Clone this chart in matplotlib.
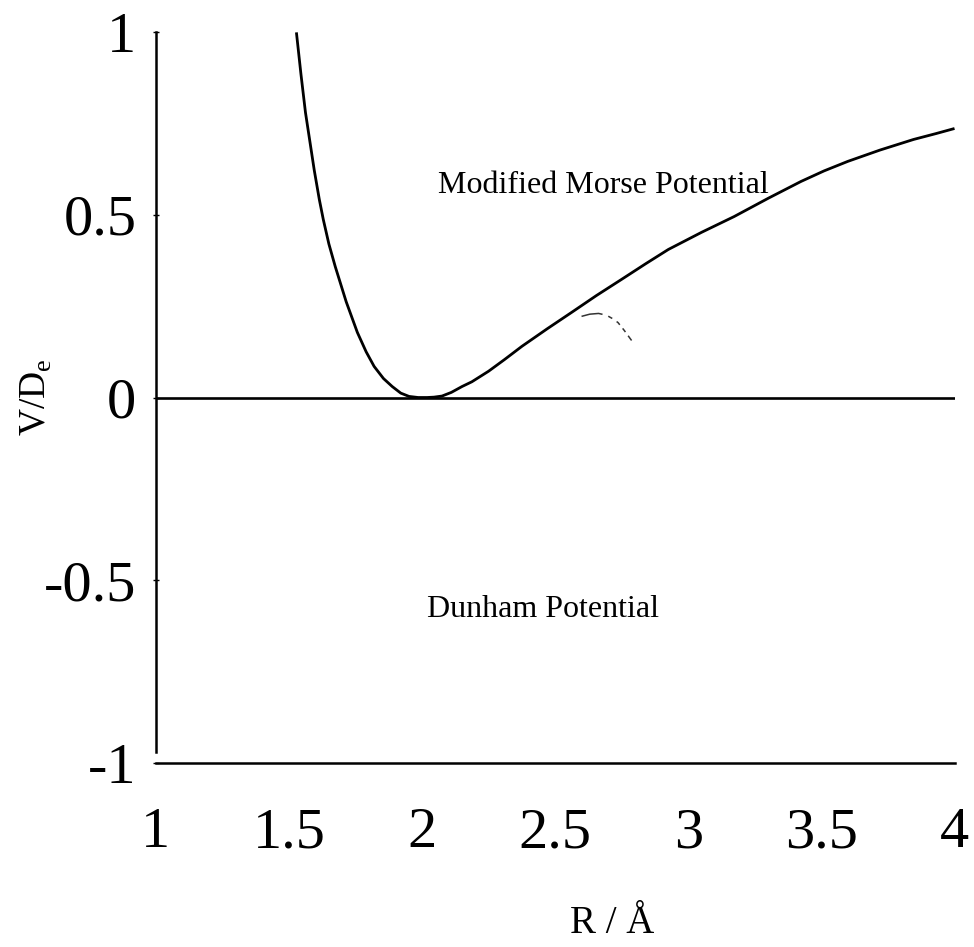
import matplotlib
matplotlib.use("Agg")
import matplotlib.pyplot as plt

plt.rcParams['font.family'] = ['Liberation Serif', 'DejaVu Serif']
plt.rcParams['mathtext.fontset'] = 'custom'
plt.rcParams['mathtext.rm'] = 'Liberation Serif'

# Modified Morse potential, V/De against R (Angstrom)
morse_r = [1.528, 1.545, 1.562, 1.595, 1.614, 1.629, 1.650, 1.674, 1.715, 1.757,
           1.790, 1.820, 1.855, 1.888, 1.920, 1.951, 1.985, 2.019, 2.045, 2.075,
           2.110, 2.150, 2.187, 2.250, 2.310, 2.375, 2.470, 2.562, 2.655, 2.749,
           2.840, 2.925, 3.050, 3.172, 3.300, 3.423, 3.510, 3.599, 3.720, 3.846,
           3.930, 4.000]
morse_v = [0.999, 0.885, 0.780, 0.622, 0.542, 0.487, 0.420, 0.358, 0.262, 0.178,
           0.125, 0.085, 0.052, 0.030, 0.012, 0.003, 0.000, 0.000, 0.001, 0.004,
           0.014, 0.030, 0.043, 0.072, 0.104, 0.140, 0.188, 0.233, 0.279, 0.323,
           0.366, 0.405, 0.452, 0.495, 0.545, 0.591, 0.620, 0.646, 0.677, 0.706,
           0.722, 0.736]

# Dunham expansion, only where it departs from the Morse curve
dunham_r = [2.599, 2.630, 2.663, 2.693, 2.715, 2.736, 2.760, 2.787]
dunham_v = [0.222, 0.228, 0.230, 0.225, 0.216, 0.205, 0.183, 0.156]

xticks = [1, 1.5, 2, 2.5, 3, 3.5, 4]
xtick_labels = ['1', '1.5', '2', '2.5', '3', '3.5', '4']
yticks = [-1, -0.5, 0, 0.5, 1]
ytick_labels = ['-1', '-0.5', '0', '0.5', '1']

fig = plt.figure(figsize=(9.74, 9.47), dpi=100)
ax = fig.add_axes([0.160, 0.1943, 0.820, 0.7719])

ax.plot(morse_r, morse_v, color='black', lw=2.0, solid_capstyle='butt')
ax.plot(dunham_r, dunham_v, color='#333333', lw=1.1,
        linestyle=(0, (14, 4, 3, 3.5, 3, 3, 3, 3)))
ax.axhline(0, color='black', lw=1.9)

ax.text(2.06, 0.58, 'Modified Morse Potential', fontsize=23, va='center')
ax.text(2.02, -0.58, 'Dunham Potential', fontsize=23, va='center')

ax.set_xlim(1, 4)
ax.set_ylim(-1, 1)
ax.set_xticks(xticks)
ax.set_xticklabels(xtick_labels)
ax.set_yticks(yticks)
ax.set_yticklabels(ytick_labels)
ax.tick_params(axis='x', length=0, labelsize=42, pad=32)
ax.tick_params(axis='y', length=4, direction='inout', width=1, labelsize=42, pad=12)

for side in ['top', 'right']:
    ax.spines[side].set_visible(False)
ax.spines['left'].set_bounds(-0.97, 1)
ax.spines['left'].set_linewidth(1.8)
ax.spines['bottom'].set_linewidth(1.8)

ax.set_xlabel('R / Å', fontsize=28)
ax.xaxis.set_label_coords(0.571, -0.194)
ax.set_ylabel(r'V/D$_\mathregular{e}$', fontsize=27)
ax.yaxis.set_label_coords(-0.1275, 0.5)

fig.savefig('out.png', dpi=100, facecolor='white')
